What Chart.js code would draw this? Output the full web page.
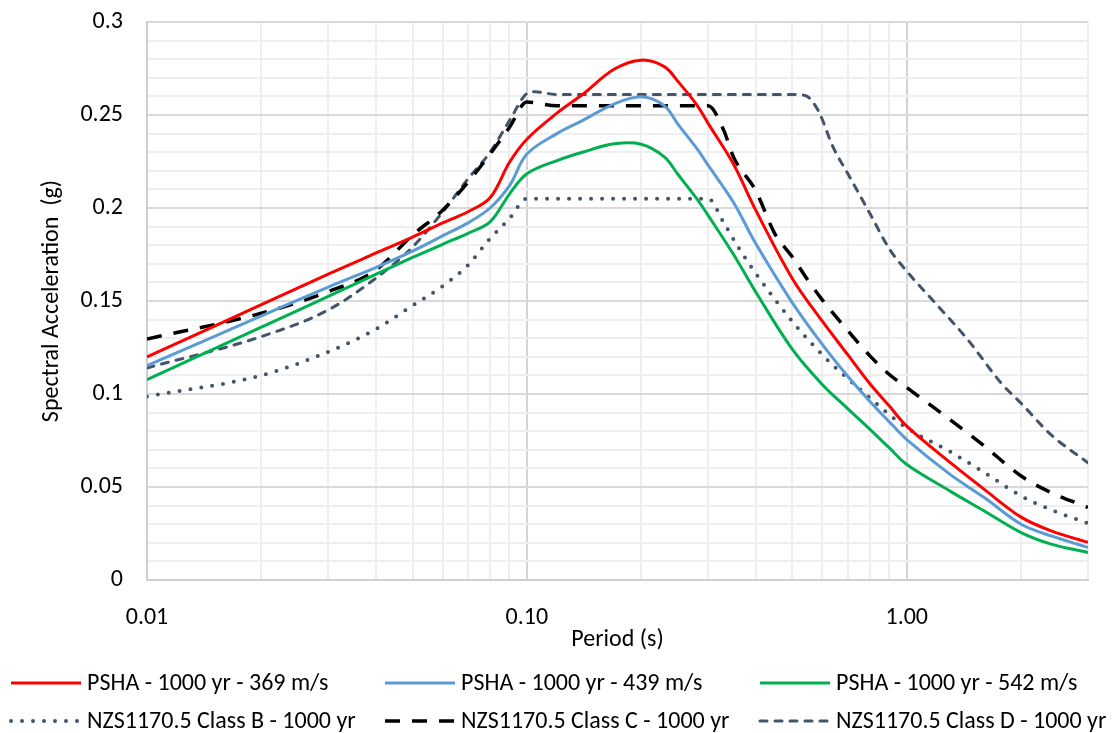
<!DOCTYPE html>
<html>
<head>
<meta charset="utf-8">
<script src="https://cdn.jsdelivr.net/npm/chart.js@4"></script>
<style>
  body { margin: 0; background: #fff; }
  #wrap { width: 1112px; height: 733px; }
</style>
</head>
<body>
<div id="wrap"><canvas id="chart"></canvas></div>
<script>
// periods (s)
var periodsPSHA = [0.01, 0.02, 0.03, 0.04, 0.05, 0.06, 0.07, 0.08, 0.09, 0.1, 0.12, 0.14, 0.17, 0.2, 0.23, 0.25, 0.28, 0.3, 0.35, 0.4, 0.5, 0.6, 0.7, 0.8, 0.9, 1.0, 1.3, 1.6, 2.0, 2.4, 3.0];
var psha369 = [0.120, 0.148, 0.1645, 0.1757, 0.1843, 0.192, 0.198, 0.2055, 0.2246, 0.237, 0.251, 0.261, 0.2747, 0.2795, 0.276, 0.268, 0.2555, 0.2455, 0.2235, 0.199, 0.162, 0.139, 0.121, 0.1055, 0.0935, 0.0827, 0.0632, 0.0487, 0.0338, 0.0264, 0.0202];
var psha439 = [0.1152, 0.142, 0.1575, 0.168, 0.1768, 0.185, 0.192, 0.200, 0.212, 0.229, 0.240, 0.247, 0.256, 0.2598, 0.255, 0.245, 0.232, 0.223, 0.203, 0.181, 0.149, 0.1265, 0.1094, 0.096, 0.085, 0.0755, 0.0568, 0.0443, 0.030, 0.0237, 0.0175];
var psha542 = [0.1077, 0.1359, 0.1525, 0.1643, 0.1734, 0.1805, 0.1864, 0.1925, 0.2075, 0.2184, 0.2255, 0.230, 0.2345, 0.2343, 0.2275, 0.218, 0.205, 0.196, 0.175, 0.155, 0.124, 0.105, 0.092, 0.081, 0.071, 0.0621, 0.0478, 0.0371, 0.0255, 0.0193, 0.0148];

var periodsB = [0.01, 0.02, 0.03, 0.04, 0.05, 0.06, 0.07, 0.08, 0.09, 0.1, 0.2, 0.3, 0.33, 0.36, 0.4, 0.5, 0.6, 0.7, 0.8, 0.9, 1.0, 1.3, 1.6, 2.0, 2.4, 3.0];
var classB = [0.0987, 0.110, 0.1227, 0.1348, 0.1475, 0.158, 0.1693, 0.1836, 0.1943, 0.205, 0.205, 0.205, 0.192, 0.179, 0.165, 0.139, 0.121, 0.1082, 0.0979, 0.0889, 0.0818, 0.069, 0.0578, 0.0452, 0.0377, 0.0305];

var periodsC = [0.01, 0.02, 0.03, 0.04, 0.05, 0.06, 0.07, 0.08, 0.09, 0.1, 0.12, 0.3, 0.33, 0.35, 0.4, 0.45, 0.5, 0.55, 0.6, 0.7, 0.8, 0.9, 1.0, 1.3, 1.6, 2.0, 2.4, 3.0];
var classC = [0.1296, 0.1434, 0.155, 0.1666, 0.1854, 0.1988, 0.2139, 0.229, 0.2434, 0.257, 0.255, 0.255, 0.2416, 0.2273, 0.2095, 0.186, 0.1737, 0.161, 0.1505, 0.134, 0.1205, 0.1105, 0.1035, 0.0862, 0.072, 0.0559, 0.047, 0.039];

var periodsD = [0.01, 0.02, 0.03, 0.04, 0.05, 0.06, 0.07, 0.08, 0.09, 0.1, 0.105, 0.12, 0.5, 0.54, 0.585, 0.64, 0.7, 0.8, 0.9, 1.0, 1.2, 1.45, 1.77, 2.0, 2.4, 3.0];
var classD = [0.114, 0.1309, 0.1452, 0.1622, 0.179, 0.1978, 0.2157, 0.230, 0.247, 0.2615, 0.2625, 0.261, 0.261, 0.2605, 0.2523, 0.2327, 0.2184, 0.197, 0.178, 0.166, 0.148, 0.129, 0.106, 0.095, 0.078, 0.063];

var xTicks = [0.01, 0.02, 0.03, 0.04, 0.05, 0.06, 0.07, 0.08, 0.09, 0.1, 0.2, 0.3, 0.4, 0.5, 0.6, 0.7, 0.8, 0.9, 1, 2, 3];
var xLabelled = [0.01, 0.1, 1];

function pts(xs, ys) {
    return xs.map(function (x, i) { return {x: x, y: ys[i]}; });
}
function isDecade(v) {
    return xLabelled.some(function (d) { return Math.abs(d - v) < 1e-9; });
}
function isMajorY(v) {
    return Math.round(v * 100) % 5 === 0;
}

var slate = '#44546a';

// legend laid out in fixed columns like the Excel one
var gridLegend = {
    id: 'gridLegend',
    afterDraw: function (chart, args, opts) {
        var ctx = chart.ctx;
        chart.data.datasets.forEach(function (ds, i) {
            var x = opts.columns[i % 3], y = opts.rows[Math.floor(i / 3)];
            ctx.save();
            ctx.strokeStyle = ds.borderColor;
            ctx.lineWidth = ds.borderWidth;
            ctx.lineCap = ds.borderCapStyle || 'butt';
            ctx.setLineDash(ds.borderDash || []);
            ctx.beginPath();
            ctx.moveTo(x, y);
            ctx.lineTo(x + opts.lineLength, y);
            ctx.stroke();
            ctx.setLineDash([]);
            ctx.fillStyle = '#000';
            ctx.font = opts.font;
            ctx.textBaseline = 'middle';
            ctx.fillText(ds.label, x + opts.lineLength + 6, y + 1);
            ctx.restore();
        });
    }
};

Chart.defaults.font.family = 'Carlito, Lato, sans-serif';
Chart.defaults.font.size = 24;
Chart.defaults.color = '#000';

var smooth = {pointRadius: 0, fill: false, tension: 0.35};
var code = {pointRadius: 0, fill: false, cubicInterpolationMode: 'monotone'};

new Chart(document.getElementById('chart'), {
    type: 'line',
    data: {
        datasets: [
            Object.assign({label: 'PSHA - 1000 yr - 369 m/s', data: pts(periodsPSHA, psha369), borderColor: '#ff0000', borderWidth: 3}, smooth),
            Object.assign({label: 'PSHA - 1000 yr - 439 m/s', data: pts(periodsPSHA, psha439), borderColor: '#5b9bd5', borderWidth: 3}, smooth),
            Object.assign({label: 'PSHA - 1000 yr - 542 m/s', data: pts(periodsPSHA, psha542), borderColor: '#00b050', borderWidth: 3}, smooth),
            Object.assign({label: 'NZS1170.5 Class B - 1000 yr', data: pts(periodsB, classB), borderColor: slate, borderWidth: 4, borderDash: [0, 11], borderCapStyle: 'round'}, code),
            Object.assign({label: 'NZS1170.5 Class C - 1000 yr', data: pts(periodsC, classC), borderColor: '#000', borderWidth: 3.5, borderDash: [15, 12]}, code),
            Object.assign({label: 'NZS1170.5 Class D - 1000 yr', data: pts(periodsD, classD), borderColor: slate, borderWidth: 3, borderDash: [7, 8], borderCapStyle: 'round'}, code)
        ]
    },
    options: {
        responsive: true,
        maintainAspectRatio: false,
        animation: false,
        layout: {padding: {left: 34, right: 23, top: 22, bottom: 77}},
        plugins: {
            legend: {display: false},
            tooltip: {enabled: false},
            gridLegend: {
                columns: [11, 385, 760],
                rows: [683, 721],
                lineLength: 70,
                font: '24px Carlito, Lato, sans-serif'
            }
        },
        scales: {
            x: {
                type: 'logarithmic',
                min: 0.01,
                max: 3,
                afterBuildTicks: function (scale) {
                    scale.ticks = xTicks.map(function (v) { return {value: v}; });
                },
                afterFit: function (scale) { scale.height = 76; },
                ticks: {
                    autoSkip: false,
                    maxRotation: 0,
                    padding: 24,
                    callback: function (v) { return isDecade(v) ? Number(v).toFixed(2) : ''; }
                },
                grid: {
                    drawTicks: false,
                    color: function (c) { return c.tick && isDecade(c.tick.value) ? '#d4d4d4' : '#eeeeee'; },
                    lineWidth: 2
                },
                border: {color: '#cfcfcf', width: 2},
                title: {display: true, text: 'Period (s)', padding: {top: 0, bottom: 2}}
            },
            y: {
                min: 0,
                max: 0.3,
                afterFit: function (scale) {
                    scale.width = 113;
                    scale.paddingTop = 0;
                },
                ticks: {
                    stepSize: 0.01,
                    maxTicksLimit: 40,
                    autoSkip: false,
                    padding: 24,
                    callback: function (v) { return isMajorY(v) ? String(Number(v.toFixed(2))) : ''; }
                },
                grid: {
                    drawTicks: false,
                    color: function (c) { return c.tick && isMajorY(c.tick.value) ? '#d9d9d9' : '#efefef'; },
                    lineWidth: 2
                },
                border: {color: '#cfcfcf', width: 2},
                title: {display: true, text: 'Spectral Acceleration  (g)'}
            }
        }
    },
    plugins: [gridLegend]
});
</script>
</body>
</html>
